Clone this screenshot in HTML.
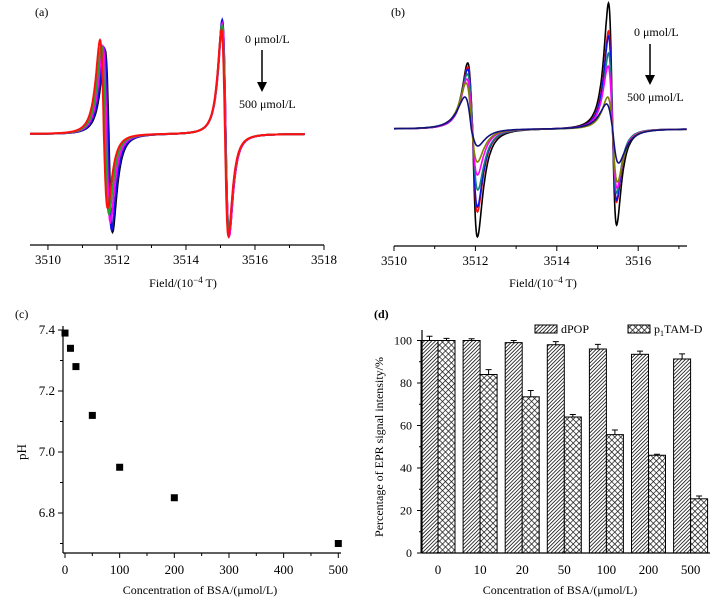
<!DOCTYPE html>
<html><head><meta charset="utf-8"><style>
body{margin:0;background:#fff;}
svg{display:block;font-family:"Liberation Serif",serif;}
</style></head><body>
<svg id="fig" width="718" height="604" viewBox="0 0 718 604" xmlns="http://www.w3.org/2000/svg">
<defs>
<pattern id="hatchD" patternUnits="userSpaceOnUse" width="2.6" height="2.6" patternTransform="rotate(45)">
<rect width="2.6" height="2.6" fill="#fff"/><line x1="0" y1="0" x2="0" y2="2.6" stroke="#111" stroke-width="1.6"/></pattern>
<pattern id="hatchX" patternUnits="userSpaceOnUse" width="4.2" height="4.2" patternTransform="rotate(45)">
<rect width="4.2" height="4.2" fill="#fff"/><line x1="0" y1="0" x2="0" y2="4.2" stroke="#111" stroke-width="1.4"/><line x1="0" y1="0" x2="4.2" y2="0" stroke="#111" stroke-width="1.4"/></pattern>
</defs>
<g id="pa"></g>
<g id="pb"></g>
<g id="pc"></g>
<g id="pd"></g>
</svg>
<script>
// ---- Panel (a) data ----
const aTicks=[3510,3512,3514,3516,3518];
const aColors=["#000000","#1010e0","#ff00ff","#2aa02a","#ff1010"];
const aC1=[3511.76,3511.74,3511.70,3511.66,3511.62];
const aUp1=[84,86,88,88,94];
const aDown1=[98,96,88,80,74];
const aC2=[3515.15,3515.15,3515.15,3515.14,3515.13];
const aUp2=[112,114,110,108,104];
const aDown2=[102,100,102,98,102];
// ---- Panel (b) data ----
const bTicks=[3510,3512,3514,3516];
const bColors=["#000000","#ff1010","#1010e0","#108080","#ff00ff","#808000","#101080"];
const bC1=[3511.93,3511.93,3511.93,3511.93,3511.92,3511.91,3511.90];
const bUp1=[66,62,60,55,50,46,32];
const bDown1=[108,83,78,61,46,33,17];
const bHalf1=[0.12,0.12,0.12,0.13,0.13,0.14,0.16];
const bC2=[3515.37,3515.37,3515.37,3515.37,3515.37,3515.37,3515.37];
const bUp2=[126,98,93,76,63,32,25];
const bDown2=[96,73,71,64,59,53,34];
const bHalf2=[0.1,0.1,0.1,0.1,0.11,0.12,0.15];
// ---- Panel (c) data ----
const cX=[0,10,20,50,100,200,500];
const cY=[7.39,7.34,7.28,7.12,6.95,6.85,6.70];
const cXTicks=[0,100,200,300,400,500];
const cYTicks=[6.8,7.0,7.2,7.4];
// ---- Panel (d) data ----
const dCats=["0","10","20","50","100","200","500"];
const dPOP=[100,100,99,98,96,93.5,91.3];
const dPOPErr=[2,0.8,1,1.5,2.2,1.5,2.4];
const dTAM=[100,84,73.5,64,55.7,46,25.5];
const dTAMErr=[1,2.3,3,1.2,2.2,0.5,1.3];
const dYTicks=[0,20,40,60,80,100];

const NS="http://www.w3.org/2000/svg";
function mk(parent,tag,attrs,text){const e=document.createElementNS(NS,tag);for(const k in attrs)e.setAttribute(k,attrs[k]);if(text!==undefined)e.textContent=text;parent.appendChild(e);return e;}
function lor(x,c,h,up,down){const g=h*Math.sqrt(3);const u=(x-c)/g;const f=-2*u/Math.pow(1+u*u,2)/0.6495;return f>0?f*up:f*down;}

// Panel A
(function(){
 const g=document.getElementById('pa');
 const x0=3509.48,x1=3518,px0=30,px1=324,base=134;
 const sx=v=>px0+(v-x0)/(x1-x0)*(px1-px0);
 let t=mk(g,'text',{x:35,y:16,'font-size':12},'(a)');
 
 for(let s=0;s<aColors.length;s++){
  let d='';
  for(let v=x0;v<=3517.45;v+=0.01){const y=base-lor(v,aC1[s],0.11,aUp1[s],aDown1[s])-lor(v,aC2[s],0.1,aUp2[s],aDown2[s]);d+=(d?'L':'M')+sx(v).toFixed(1)+','+y.toFixed(1);}
  const p=mk(g,'path',{d:d,fill:'none',stroke:aColors[s],'stroke-width':2});
  
 }
 const ax=mk(g,'line',{x1:px0,y1:245,x2:px1,y2:245,stroke:'#000','stroke-width':1.2});
 
 for(let v=3510;v<=3518;v++){mk(g,'line',{x1:sx(v),y1:245,x2:sx(v),y2:v%2===0?250:248,stroke:'#000'});}
 aTicks.forEach(v=>{const e=mk(g,'text',{x:sx(v),y:264,'font-size':13,'text-anchor':'middle'},String(v));});
 const xt=mk(g,'text',{x:183,y:287,'font-size':12,'text-anchor':'middle'});xt.innerHTML='Field/(10<tspan dy="-4" font-size="9">−4</tspan><tspan dy="4"> T)</tspan>';
 
 t=mk(g,'text',{x:245,y:43,'font-size':12},'0 μmol/L');
 mk(g,'line',{x1:262,y1:50,x2:262,y2:84,stroke:'#000','stroke-width':1.5});
 mk(g,'polygon',{points:'257,82 267,82 262,92',fill:'#000'});
 t=mk(g,'text',{x:239,y:108,'font-size':12},'500 μmol/L');
})();

// Panel B
(function(){
 const g=document.getElementById('pb');
 const px0=394,base=129,k=40.7;
 const sx=v=>px0+(v-3510)*k;
 let t=mk(g,'text',{x:391,y:16,'font-size':12},'(b)');
 
 for(let s=0;s<bColors.length;s++){
  let d='';
  for(let v=3510;v<=3517.2;v+=0.01){const y=base-lor(v,bC1[s],bHalf1[s],bUp1[s],bDown1[s])-lor(v,bC2[s],bHalf2[s],bUp2[s],bDown2[s]);d+=(d?'L':'M')+sx(v).toFixed(1)+','+y.toFixed(1);}
  const p=mk(g,'path',{d:d,fill:'none',stroke:bColors[s],'stroke-width':1.6});
  
 }
 const ax=mk(g,'line',{x1:px0,y1:246,x2:687,y2:246,stroke:'#000','stroke-width':1.2});
 
 for(let v=3510;v<=3517;v++){mk(g,'line',{x1:sx(v),y1:246,x2:sx(v),y2:v%2===0?251:249,stroke:'#000'});}
 bTicks.forEach(v=>{const e=mk(g,'text',{x:sx(v),y:265,'font-size':13,'text-anchor':'middle'},String(v));});
 const xt=mk(g,'text',{x:543,y:287,'font-size':12,'text-anchor':'middle'});xt.innerHTML='Field/(10<tspan dy="-4" font-size="9">−4</tspan><tspan dy="4"> T)</tspan>';
 
 t=mk(g,'text',{x:634,y:36,'font-size':12},'0 μmol/L');
 mk(g,'line',{x1:650,y1:44,x2:650,y2:76,stroke:'#000','stroke-width':1.5});
 mk(g,'polygon',{points:'645,75 655,75 650,85',fill:'#000'});
 t=mk(g,'text',{x:627,y:101,'font-size':12},'500 μmol/L');
})();

// Panel C
(function(){
 const g=document.getElementById('pc');
 const sx=v=>65+v*0.5466;
 const syy=v=>330+(7.4-v)*305;
 let t=mk(g,'text',{x:15,y:318,'font-size':12},'(c)');
 const ya=mk(g,'line',{x1:63,y1:326,x2:63,y2:553,stroke:'#000','stroke-width':1.2});
 const xa=mk(g,'line',{x1:63,y1:553,x2:341,y2:553,stroke:'#000','stroke-width':1.2});
 for(let v=0;v<=500;v+=50){mk(g,'line',{x1:sx(v),y1:553,x2:sx(v),y2:v%100===0?558:556,stroke:'#000'});}
 for(let v=6.7;v<=7.41;v+=0.1){const vv=Math.round(v*10)/10;mk(g,'line',{x1:63,y1:syy(vv),x2:Math.round(vv*10)%2===0?58:60,y2:syy(vv),stroke:'#000'});}
 cXTicks.forEach(v=>{const e=mk(g,'text',{x:sx(v),y:574,'font-size':13,'text-anchor':'middle'},String(v));});
 cYTicks.forEach(v=>{const e=mk(g,'text',{x:55,y:syy(v)+4,'font-size':13,'text-anchor':'end'},v.toFixed(1));});
 cX.forEach((v,i)=>{const r=mk(g,'rect',{x:sx(v)-3.5,y:syy(cY[i])-3.5,width:7,height:7,fill:'#000'});});
 t=mk(g,'text',{x:200,y:594,'font-size':12,'text-anchor':'middle'},'Concentration of BSA/(μmol/L)');
 t=mk(g,'text',{x:26,y:452,'font-size':13,'text-anchor':'middle',transform:'rotate(-90 26 452)'},'pH');
})();

// Panel D
(function(){
 const g=document.getElementById('pd');
 const sy=v=>553-v*2.125;
 const cx=i=>438+i*42.1;
 const bw=17;
 let t=mk(g,'text',{x:374,y:318,'font-size':12,'font-weight':'bold'},'(d)');
 dCats.forEach((c,i)=>{
  let r=mk(g,'rect',{x:cx(i)-bw,y:sy(dPOP[i]),width:bw,height:553-sy(dPOP[i]),fill:'url(#hatchD)',stroke:'#000','stroke-width':1});
  
  r=mk(g,'rect',{x:cx(i),y:sy(dTAM[i]),width:bw,height:553-sy(dTAM[i]),fill:'url(#hatchX)',stroke:'#000','stroke-width':1});
  
  [[cx(i)-bw/2,dPOP[i],dPOPErr[i]],[cx(i)+bw/2,dTAM[i],dTAMErr[i]]].forEach(a=>{
   const e=mk(g,'path',{d:`M${a[0]},${sy(a[1])}V${sy(a[1]+a[2])}M${a[0]-3},${sy(a[1]+a[2])}H${a[0]+3}`,stroke:'#000','stroke-width':1,fill:'none'});
   
  });
  const l=mk(g,'text',{x:cx(i),y:574,'font-size':13,'text-anchor':'middle'},c);
 });
 const ya=mk(g,'line',{x1:422,y1:330,x2:422,y2:553,stroke:'#000','stroke-width':1.2});
 const xa=mk(g,'line',{x1:422,y1:553,x2:710,y2:553,stroke:'#000','stroke-width':1.2});
 dYTicks.forEach(v=>{mk(g,'line',{x1:417,y1:sy(v),x2:422,y2:sy(v),stroke:'#000'});const e=mk(g,'text',{x:412,y:sy(v)+4,'font-size':12,'text-anchor':'end'},String(v));});
 for(let v=10;v<100;v+=20){mk(g,'line',{x1:419,y1:sy(v),x2:422,y2:sy(v),stroke:'#000'});}
 let r=mk(g,'rect',{x:535,y:325,width:22,height:8,fill:'url(#hatchD)',stroke:'#000'});
 t=mk(g,'text',{x:561,y:333,'font-size':12},'dPOP');
 r=mk(g,'rect',{x:628,y:325,width:22,height:8,fill:'url(#hatchX)',stroke:'#000'});
 t=mk(g,'text',{x:654,y:333,'font-size':12});t.innerHTML='p<tspan dy="3" font-size="8">1</tspan><tspan dy="-3">TAM-D</tspan>';
 t=mk(g,'text',{x:560,y:594,'font-size':12,'text-anchor':'middle'},'Concentration of BSA/(μmol/L)');
 t=mk(g,'text',{x:383,y:447,'font-size':12,'text-anchor':'middle',transform:'rotate(-90 383 447)'},'Percentage of EPR signal intensity/%');
})();
</script>
</body></html>
